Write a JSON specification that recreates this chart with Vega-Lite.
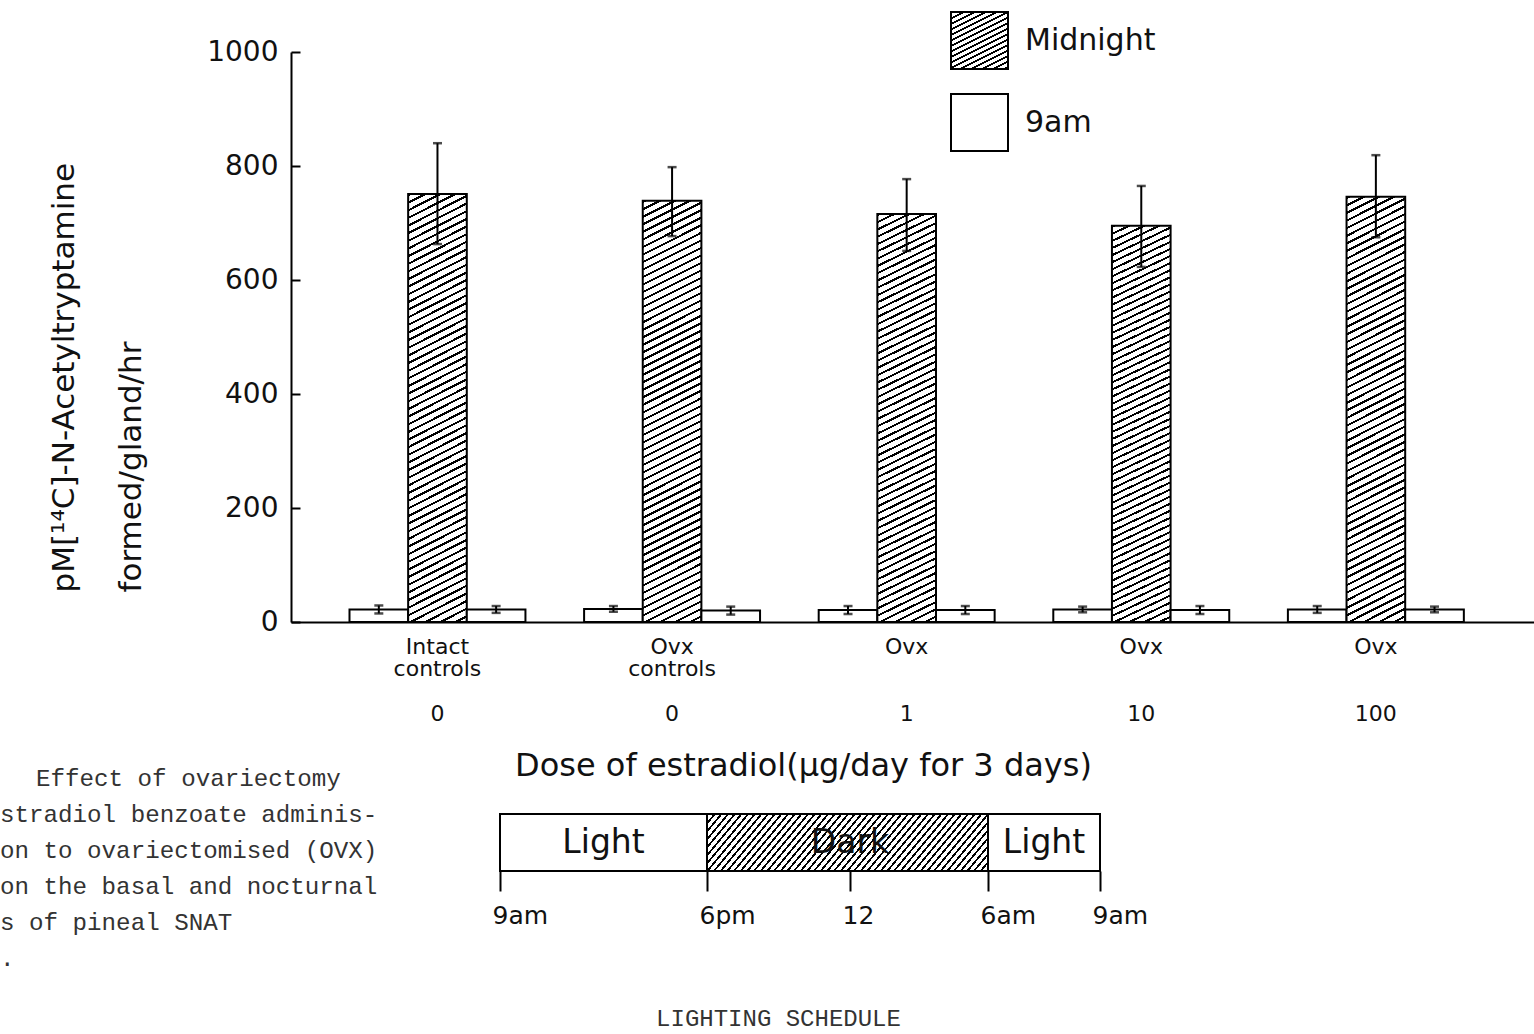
{
  "$schema": "https://vega.github.io/schema/vega-lite/v6.json",
  "background": "#ffffff",
  "padding": {"left": 0, "top": 11, "right": 0, "bottom": 6},
  "bounds": "flush",
  "spacing": 192,
  "config": {
    "view": {"stroke": null},
    "font": "DejaVu Sans",
    "axis": {"domainColor": "#000", "domainWidth": 2, "tickColor": "#000", "tickWidth": 2, "labelColor": "#111", "titleColor": "#111", "labelFont": "DejaVu Sans", "titleFont": "DejaVu Sans", "titleFontWeight": "normal", "grid": false},
    "legend": {"labelFont": "DejaVu Sans"},
    "title": {"fontWeight": "normal"}
  },
  "vconcat": [
    {
      "width": 1243,
      "height": 570,
      "data": {
        "values": [
          {"group": "Intact|controls|\u2800|0", "time": "9am_before", "series": "9am", "value": 22, "lo": 15, "hi": 29},
          {"group": "Intact|controls|\u2800|0", "time": "Midnight", "series": "Midnight", "value": 751, "lo": 663, "hi": 840},
          {"group": "Intact|controls|\u2800|0", "time": "9am_after", "series": "9am", "value": 22, "lo": 16, "hi": 28},
          {"group": "Ovx|controls|\u2800|0", "time": "9am_before", "series": "9am", "value": 23, "lo": 18, "hi": 28},
          {"group": "Ovx|controls|\u2800|0", "time": "Midnight", "series": "Midnight", "value": 739, "lo": 677, "hi": 798},
          {"group": "Ovx|controls|\u2800|0", "time": "9am_after", "series": "9am", "value": 20, "lo": 13, "hi": 27},
          {"group": "Ovx|\u2800|\u2800|1", "time": "9am_before", "series": "9am", "value": 21, "lo": 14, "hi": 28},
          {"group": "Ovx|\u2800|\u2800|1", "time": "Midnight", "series": "Midnight", "value": 716, "lo": 651, "hi": 777},
          {"group": "Ovx|\u2800|\u2800|1", "time": "9am_after", "series": "9am", "value": 21, "lo": 14, "hi": 28},
          {"group": "Ovx|\u2800|\u2800|10", "time": "9am_before", "series": "9am", "value": 22, "lo": 17, "hi": 27},
          {"group": "Ovx|\u2800|\u2800|10", "time": "Midnight", "series": "Midnight", "value": 695, "lo": 623, "hi": 765},
          {"group": "Ovx|\u2800|\u2800|10", "time": "9am_after", "series": "9am", "value": 21, "lo": 14, "hi": 28},
          {"group": "Ovx|\u2800|\u2800|100", "time": "9am_before", "series": "9am", "value": 22, "lo": 16, "hi": 28},
          {"group": "Ovx|\u2800|\u2800|100", "time": "Midnight", "series": "Midnight", "value": 746, "lo": 675, "hi": 819},
          {"group": "Ovx|\u2800|\u2800|100", "time": "9am_after", "series": "9am", "value": 22, "lo": 17, "hi": 27}
        ]
      },
      "encoding": {
        "x": {
          "field": "group", "type": "nominal", "sort": null,
          "scale": {"paddingInner": 0.25, "paddingOuter": 0.2742, "align": 0.4547},
          "axis": {
            "title": "Dose of estradiol(μg/day for 3 days)",
            "labelExpr": "split(datum.label, '|')",
            "labelAngle": 0, "labelBaseline": "top", "labelLineHeight": 22.5, "labelPadding": 14,
            "labelFontSize": 22, "labelOverlap": false, "ticks": false,
            "titleFontSize": 32, "titleX": 512, "titleY": 153, "titleAlign": "center", "titleBaseline": "alphabetic"
          }
        },
        "xOffset": {"field": "time", "type": "nominal", "sort": ["9am_before", "Midnight", "9am_after"], "scale": {"paddingInner": 0, "paddingOuter": 0}}
      },
      "layer": [
        {
          "mark": {"type": "bar", "stroke": "#000", "strokeWidth": 2},
          "encoding": {
            "y": {
              "field": "value", "type": "quantitative",
              "scale": {"domain": [0, 1000], "nice": false},
              "axis": {
                "title": ["pM[¹⁴C]-N-Acetyltryptamine", "formed/gland/hr"],
                "values": [0, 200, 400, 600, 800, 1000], "format": "d",
                "tickSize": -9, "labelPadding": 22, "labelFontSize": 28,
                "titleFontSize": 31, "titleAngle": 270, "titleAlign": "left", "titleBaseline": "alphabetic",
                "titleX": -218, "titleY": 540, "titleLineHeight": 67
              }
            },
            "fill": {
              "field": "series", "type": "nominal",
              "scale": {
                "domain": ["Midnight", "9am"],
                "range": [
                  {"expr": "{gradient: 'linear', x1: 0, y1: 0, x2: 0.7018, y2: 1.4035, stops: [{offset: 0, color: '#000'}, {offset: 0.02, color: '#000'}, {offset: 0.02, color: '#fff'}, {offset: 0.055, color: '#fff'}, {offset: 0.055, color: '#000'}, {offset: 0.075, color: '#000'}, {offset: 0.075, color: '#fff'}, {offset: 0.11, color: '#fff'}, {offset: 0.11, color: '#000'}, {offset: 0.13, color: '#000'}, {offset: 0.13, color: '#fff'}, {offset: 0.165, color: '#fff'}, {offset: 0.165, color: '#000'}, {offset: 0.185, color: '#000'}, {offset: 0.185, color: '#fff'}, {offset: 0.22, color: '#fff'}, {offset: 0.22, color: '#000'}, {offset: 0.24, color: '#000'}, {offset: 0.24, color: '#fff'}, {offset: 0.275, color: '#fff'}, {offset: 0.275, color: '#000'}, {offset: 0.295, color: '#000'}, {offset: 0.295, color: '#fff'}, {offset: 0.33, color: '#fff'}, {offset: 0.33, color: '#000'}, {offset: 0.35, color: '#000'}, {offset: 0.35, color: '#fff'}, {offset: 0.385, color: '#fff'}, {offset: 0.385, color: '#000'}, {offset: 0.405, color: '#000'}, {offset: 0.405, color: '#fff'}, {offset: 0.44, color: '#fff'}, {offset: 0.44, color: '#000'}, {offset: 0.46, color: '#000'}, {offset: 0.46, color: '#fff'}, {offset: 0.495, color: '#fff'}, {offset: 0.495, color: '#000'}, {offset: 0.515, color: '#000'}, {offset: 0.515, color: '#fff'}, {offset: 0.55, color: '#fff'}, {offset: 0.55, color: '#000'}, {offset: 0.57, color: '#000'}, {offset: 0.57, color: '#fff'}, {offset: 0.605, color: '#fff'}, {offset: 0.605, color: '#000'}, {offset: 0.625, color: '#000'}, {offset: 0.625, color: '#fff'}, {offset: 0.66, color: '#fff'}, {offset: 0.66, color: '#000'}, {offset: 0.68, color: '#000'}, {offset: 0.68, color: '#fff'}, {offset: 0.715, color: '#fff'}, {offset: 0.715, color: '#000'}, {offset: 0.735, color: '#000'}, {offset: 0.735, color: '#fff'}, {offset: 0.77, color: '#fff'}, {offset: 0.77, color: '#000'}, {offset: 0.79, color: '#000'}, {offset: 0.79, color: '#fff'}, {offset: 0.825, color: '#fff'}, {offset: 0.825, color: '#000'}, {offset: 0.845, color: '#000'}, {offset: 0.845, color: '#fff'}]}"},
                  "#ffffff"
                ]
              },
              "condition": {
                "test": "datum.series === 'Midnight'",
                "value": {"gradient": "linear", "x1": 0, "y1": 0, "x2": 0.0827, "y2": 1.1848, "stops": [
{"offset":0,"color":"#000"},{"offset":0.0045,"color":"#000"},{"offset":0.0045,"color":"#fff"},{"offset":0.015,"color":"#fff"},
{"offset":0.015,"color":"#000"},{"offset":0.0195,"color":"#000"},{"offset":0.0195,"color":"#fff"},{"offset":0.03,"color":"#fff"},
{"offset":0.03,"color":"#000"},{"offset":0.0345,"color":"#000"},{"offset":0.0345,"color":"#fff"},{"offset":0.045,"color":"#fff"},
{"offset":0.045,"color":"#000"},{"offset":0.0495,"color":"#000"},{"offset":0.0495,"color":"#fff"},{"offset":0.06,"color":"#fff"},
{"offset":0.06,"color":"#000"},{"offset":0.0645,"color":"#000"},{"offset":0.0645,"color":"#fff"},{"offset":0.075,"color":"#fff"},
{"offset":0.075,"color":"#000"},{"offset":0.0795,"color":"#000"},{"offset":0.0795,"color":"#fff"},{"offset":0.09,"color":"#fff"},
{"offset":0.09,"color":"#000"},{"offset":0.0945,"color":"#000"},{"offset":0.0945,"color":"#fff"},{"offset":0.105,"color":"#fff"},
{"offset":0.105,"color":"#000"},{"offset":0.1095,"color":"#000"},{"offset":0.1095,"color":"#fff"},{"offset":0.12,"color":"#fff"},
{"offset":0.12,"color":"#000"},{"offset":0.1245,"color":"#000"},{"offset":0.1245,"color":"#fff"},{"offset":0.135,"color":"#fff"},
{"offset":0.135,"color":"#000"},{"offset":0.1395,"color":"#000"},{"offset":0.1395,"color":"#fff"},{"offset":0.15,"color":"#fff"},
{"offset":0.15,"color":"#000"},{"offset":0.1545,"color":"#000"},{"offset":0.1545,"color":"#fff"},{"offset":0.165,"color":"#fff"},
{"offset":0.165,"color":"#000"},{"offset":0.1695,"color":"#000"},{"offset":0.1695,"color":"#fff"},{"offset":0.18,"color":"#fff"},
{"offset":0.18,"color":"#000"},{"offset":0.1845,"color":"#000"},{"offset":0.1845,"color":"#fff"},{"offset":0.195,"color":"#fff"},
{"offset":0.195,"color":"#000"},{"offset":0.1995,"color":"#000"},{"offset":0.1995,"color":"#fff"},{"offset":0.21,"color":"#fff"},
{"offset":0.21,"color":"#000"},{"offset":0.2145,"color":"#000"},{"offset":0.2145,"color":"#fff"},{"offset":0.225,"color":"#fff"},
{"offset":0.225,"color":"#000"},{"offset":0.2295,"color":"#000"},{"offset":0.2295,"color":"#fff"},{"offset":0.24,"color":"#fff"},
{"offset":0.24,"color":"#000"},{"offset":0.2445,"color":"#000"},{"offset":0.2445,"color":"#fff"},{"offset":0.255,"color":"#fff"},
{"offset":0.255,"color":"#000"},{"offset":0.2595,"color":"#000"},{"offset":0.2595,"color":"#fff"},{"offset":0.27,"color":"#fff"},
{"offset":0.27,"color":"#000"},{"offset":0.2745,"color":"#000"},{"offset":0.2745,"color":"#fff"},{"offset":0.285,"color":"#fff"},
{"offset":0.285,"color":"#000"},{"offset":0.2895,"color":"#000"},{"offset":0.2895,"color":"#fff"},{"offset":0.3,"color":"#fff"},
{"offset":0.3,"color":"#000"},{"offset":0.3045,"color":"#000"},{"offset":0.3045,"color":"#fff"},{"offset":0.315,"color":"#fff"},
{"offset":0.315,"color":"#000"},{"offset":0.3195,"color":"#000"},{"offset":0.3195,"color":"#fff"},{"offset":0.33,"color":"#fff"},
{"offset":0.33,"color":"#000"},{"offset":0.3345,"color":"#000"},{"offset":0.3345,"color":"#fff"},{"offset":0.345,"color":"#fff"},
{"offset":0.345,"color":"#000"},{"offset":0.3495,"color":"#000"},{"offset":0.3495,"color":"#fff"},{"offset":0.36,"color":"#fff"},
{"offset":0.36,"color":"#000"},{"offset":0.3645,"color":"#000"},{"offset":0.3645,"color":"#fff"},{"offset":0.375,"color":"#fff"},
{"offset":0.375,"color":"#000"},{"offset":0.3795,"color":"#000"},{"offset":0.3795,"color":"#fff"},{"offset":0.39,"color":"#fff"},
{"offset":0.39,"color":"#000"},{"offset":0.3945,"color":"#000"},{"offset":0.3945,"color":"#fff"},{"offset":0.405,"color":"#fff"},
{"offset":0.405,"color":"#000"},{"offset":0.4095,"color":"#000"},{"offset":0.4095,"color":"#fff"},{"offset":0.42,"color":"#fff"},
{"offset":0.42,"color":"#000"},{"offset":0.4245,"color":"#000"},{"offset":0.4245,"color":"#fff"},{"offset":0.435,"color":"#fff"},
{"offset":0.435,"color":"#000"},{"offset":0.4395,"color":"#000"},{"offset":0.4395,"color":"#fff"},{"offset":0.45,"color":"#fff"},
{"offset":0.45,"color":"#000"},{"offset":0.4545,"color":"#000"},{"offset":0.4545,"color":"#fff"},{"offset":0.465,"color":"#fff"},
{"offset":0.465,"color":"#000"},{"offset":0.4695,"color":"#000"},{"offset":0.4695,"color":"#fff"},{"offset":0.48,"color":"#fff"},
{"offset":0.48,"color":"#000"},{"offset":0.4845,"color":"#000"},{"offset":0.4845,"color":"#fff"},{"offset":0.495,"color":"#fff"},
{"offset":0.495,"color":"#000"},{"offset":0.4995,"color":"#000"},{"offset":0.4995,"color":"#fff"},{"offset":0.51,"color":"#fff"},
{"offset":0.51,"color":"#000"},{"offset":0.5145,"color":"#000"},{"offset":0.5145,"color":"#fff"},{"offset":0.525,"color":"#fff"},
{"offset":0.525,"color":"#000"},{"offset":0.5295,"color":"#000"},{"offset":0.5295,"color":"#fff"},{"offset":0.54,"color":"#fff"},
{"offset":0.54,"color":"#000"},{"offset":0.5445,"color":"#000"},{"offset":0.5445,"color":"#fff"},{"offset":0.555,"color":"#fff"},
{"offset":0.555,"color":"#000"},{"offset":0.5595,"color":"#000"},{"offset":0.5595,"color":"#fff"},{"offset":0.57,"color":"#fff"},
{"offset":0.57,"color":"#000"},{"offset":0.5745,"color":"#000"},{"offset":0.5745,"color":"#fff"},{"offset":0.585,"color":"#fff"},
{"offset":0.585,"color":"#000"},{"offset":0.5895,"color":"#000"},{"offset":0.5895,"color":"#fff"},{"offset":0.6,"color":"#fff"},
{"offset":0.6,"color":"#000"},{"offset":0.6045,"color":"#000"},{"offset":0.6045,"color":"#fff"},{"offset":0.615,"color":"#fff"},
{"offset":0.615,"color":"#000"},{"offset":0.6195,"color":"#000"},{"offset":0.6195,"color":"#fff"},{"offset":0.63,"color":"#fff"},
{"offset":0.63,"color":"#000"},{"offset":0.6345,"color":"#000"},{"offset":0.6345,"color":"#fff"},{"offset":0.645,"color":"#fff"},
{"offset":0.645,"color":"#000"},{"offset":0.6495,"color":"#000"},{"offset":0.6495,"color":"#fff"},{"offset":0.66,"color":"#fff"},
{"offset":0.66,"color":"#000"},{"offset":0.6645,"color":"#000"},{"offset":0.6645,"color":"#fff"},{"offset":0.675,"color":"#fff"},
{"offset":0.675,"color":"#000"},{"offset":0.6795,"color":"#000"},{"offset":0.6795,"color":"#fff"},{"offset":0.69,"color":"#fff"},
{"offset":0.69,"color":"#000"},{"offset":0.6945,"color":"#000"},{"offset":0.6945,"color":"#fff"},{"offset":0.705,"color":"#fff"},
{"offset":0.705,"color":"#000"},{"offset":0.7095,"color":"#000"},{"offset":0.7095,"color":"#fff"},{"offset":0.72,"color":"#fff"},
{"offset":0.72,"color":"#000"},{"offset":0.7245,"color":"#000"},{"offset":0.7245,"color":"#fff"},{"offset":0.735,"color":"#fff"},
{"offset":0.735,"color":"#000"},{"offset":0.7395,"color":"#000"},{"offset":0.7395,"color":"#fff"},{"offset":0.75,"color":"#fff"},
{"offset":0.75,"color":"#000"},{"offset":0.7545,"color":"#000"},{"offset":0.7545,"color":"#fff"},{"offset":0.765,"color":"#fff"},
{"offset":0.765,"color":"#000"},{"offset":0.7695,"color":"#000"},{"offset":0.7695,"color":"#fff"},{"offset":0.78,"color":"#fff"},
{"offset":0.78,"color":"#000"},{"offset":0.7845,"color":"#000"},{"offset":0.7845,"color":"#fff"},{"offset":0.795,"color":"#fff"},
{"offset":0.795,"color":"#000"},{"offset":0.7995,"color":"#000"},{"offset":0.7995,"color":"#fff"},{"offset":0.81,"color":"#fff"},
{"offset":0.81,"color":"#000"},{"offset":0.8145,"color":"#000"},{"offset":0.8145,"color":"#fff"},{"offset":0.825,"color":"#fff"},
{"offset":0.825,"color":"#000"},{"offset":0.8295,"color":"#000"},{"offset":0.8295,"color":"#fff"},{"offset":0.84,"color":"#fff"},
{"offset":0.84,"color":"#000"},{"offset":0.8445,"color":"#000"},{"offset":0.8445,"color":"#fff"},{"offset":0.855,"color":"#fff"},
{"offset":0.855,"color":"#000"},{"offset":0.8595,"color":"#000"},{"offset":0.8595,"color":"#fff"},{"offset":0.87,"color":"#fff"},
{"offset":0.87,"color":"#000"},{"offset":0.8745,"color":"#000"},{"offset":0.8745,"color":"#fff"},{"offset":0.885,"color":"#fff"},
{"offset":0.885,"color":"#000"},{"offset":0.8895,"color":"#000"},{"offset":0.8895,"color":"#fff"}
                ]}
              },
              "legend": {
                "title": null, "orient": "none", "legendX": 659, "legendY": -41,
                "symbolType": "square", "symbolSize": 3249, "symbolStrokeWidth": 2, "symbolStrokeColor": "#000",
                "labelFontSize": 30, "labelColor": "#111", "labelOffset": 16, "rowPadding": 17, "padding": 0
              }
            }
          }
        },
        {
          "mark": {"type": "rule", "color": "#000", "strokeWidth": 2},
          "encoding": {
            "y": {"field": "lo", "type": "quantitative"},
            "y2": {"field": "hi"}
          }
        },
        {
          "mark": {"type": "tick", "color": "#000", "size": 9, "thickness": 2.5},
          "encoding": {"y": {"field": "lo", "type": "quantitative"}}
        },
        {
          "mark": {"type": "tick", "color": "#000", "size": 9, "thickness": 2.5},
          "encoding": {"y": {"field": "hi", "type": "quantitative"}}
        }
      ]
    },
    {
      "width": 809,
      "height": 57,
      "title": {
        "text": ["\u2800\u2800Effect of ovariectomy", "stradiol benzoate adminis-", "on to ovariectomised (OVX)", "on the basal and nocturnal", "s of pineal SNAT", "."],
        "orient": "top", "anchor": "start", "frame": "group", "align": "left", "baseline": "top",
        "offset": -158, "dx": -291, "font": "Liberation Mono", "fontSize": 24.2, "fontWeight": "normal",
        "lineHeight": 36, "color": "#333333"
      },
      "data": {
        "values": [
          {"phase": "Light", "start": 0, "end": 9},
          {"phase": "Dark", "start": 9, "end": 21},
          {"phase": "Light", "start": 21, "end": 24}
        ]
      },
      "transform": [{"calculate": "(datum.start + datum.end) / 2", "as": "mid"}],
      "layer": [
        {
          "mark": {"type": "rect", "stroke": "#000", "strokeWidth": 2},
          "encoding": {
            "x": {
              "field": "start", "type": "quantitative",
              "scale": {"domain": [0, 9, 15, 21, 24], "range": [209, 416, 559, 697, 809], "nice": false, "zero": false},
              "axis": {
                "title": "LIGHTING SCHEDULE",
                "values": [0, 9, 15, 21, 24],
                "labelExpr": "datum.value == 0 ? '9am' : datum.value == 9 ? '6pm' : datum.value == 15 ? '12' : datum.value == 21 ? '6am' : '9am'",
                "domain": false, "ticks": true, "tickSize": 20, "tickWidth": 2,
                "labelAlign": "left", "labelOffset": -8, "labelPadding": 12, "labelFontSize": 25,
                "labelFlush": false, "labelOverlap": false,
                "titleFont": "Liberation Mono", "titleFontSize": 24, "titleColor": "#333333",
                "titleX": 487, "titleY": 154, "titleAlign": "center", "titleBaseline": "alphabetic"
              }
            },
            "x2": {"field": "end"},
            "fill": {
              "condition": {
                "test": "datum.phase === 'Dark'",
                "value": {"gradient": "linear", "x1": 0, "y1": 0, "x2": 1.1532, "y2": 0.1949, "stops": [
{"offset":0,"color":"#000"},{"offset":0.007,"color":"#000"},{"offset":0.007,"color":"#fff"},{"offset":0.02,"color":"#fff"},
{"offset":0.02,"color":"#000"},{"offset":0.027,"color":"#000"},{"offset":0.027,"color":"#fff"},{"offset":0.04,"color":"#fff"},
{"offset":0.04,"color":"#000"},{"offset":0.047,"color":"#000"},{"offset":0.047,"color":"#fff"},{"offset":0.06,"color":"#fff"},
{"offset":0.06,"color":"#000"},{"offset":0.067,"color":"#000"},{"offset":0.067,"color":"#fff"},{"offset":0.08,"color":"#fff"},
{"offset":0.08,"color":"#000"},{"offset":0.087,"color":"#000"},{"offset":0.087,"color":"#fff"},{"offset":0.1,"color":"#fff"},
{"offset":0.1,"color":"#000"},{"offset":0.107,"color":"#000"},{"offset":0.107,"color":"#fff"},{"offset":0.12,"color":"#fff"},
{"offset":0.12,"color":"#000"},{"offset":0.127,"color":"#000"},{"offset":0.127,"color":"#fff"},{"offset":0.14,"color":"#fff"},
{"offset":0.14,"color":"#000"},{"offset":0.147,"color":"#000"},{"offset":0.147,"color":"#fff"},{"offset":0.16,"color":"#fff"},
{"offset":0.16,"color":"#000"},{"offset":0.167,"color":"#000"},{"offset":0.167,"color":"#fff"},{"offset":0.18,"color":"#fff"},
{"offset":0.18,"color":"#000"},{"offset":0.187,"color":"#000"},{"offset":0.187,"color":"#fff"},{"offset":0.2,"color":"#fff"},
{"offset":0.2,"color":"#000"},{"offset":0.207,"color":"#000"},{"offset":0.207,"color":"#fff"},{"offset":0.22,"color":"#fff"},
{"offset":0.22,"color":"#000"},{"offset":0.227,"color":"#000"},{"offset":0.227,"color":"#fff"},{"offset":0.24,"color":"#fff"},
{"offset":0.24,"color":"#000"},{"offset":0.247,"color":"#000"},{"offset":0.247,"color":"#fff"},{"offset":0.26,"color":"#fff"},
{"offset":0.26,"color":"#000"},{"offset":0.267,"color":"#000"},{"offset":0.267,"color":"#fff"},{"offset":0.28,"color":"#fff"},
{"offset":0.28,"color":"#000"},{"offset":0.287,"color":"#000"},{"offset":0.287,"color":"#fff"},{"offset":0.3,"color":"#fff"},
{"offset":0.3,"color":"#000"},{"offset":0.307,"color":"#000"},{"offset":0.307,"color":"#fff"},{"offset":0.32,"color":"#fff"},
{"offset":0.32,"color":"#000"},{"offset":0.327,"color":"#000"},{"offset":0.327,"color":"#fff"},{"offset":0.34,"color":"#fff"},
{"offset":0.34,"color":"#000"},{"offset":0.347,"color":"#000"},{"offset":0.347,"color":"#fff"},{"offset":0.36,"color":"#fff"},
{"offset":0.36,"color":"#000"},{"offset":0.367,"color":"#000"},{"offset":0.367,"color":"#fff"},{"offset":0.38,"color":"#fff"},
{"offset":0.38,"color":"#000"},{"offset":0.387,"color":"#000"},{"offset":0.387,"color":"#fff"},{"offset":0.4,"color":"#fff"},
{"offset":0.4,"color":"#000"},{"offset":0.407,"color":"#000"},{"offset":0.407,"color":"#fff"},{"offset":0.42,"color":"#fff"},
{"offset":0.42,"color":"#000"},{"offset":0.427,"color":"#000"},{"offset":0.427,"color":"#fff"},{"offset":0.44,"color":"#fff"},
{"offset":0.44,"color":"#000"},{"offset":0.447,"color":"#000"},{"offset":0.447,"color":"#fff"},{"offset":0.46,"color":"#fff"},
{"offset":0.46,"color":"#000"},{"offset":0.467,"color":"#000"},{"offset":0.467,"color":"#fff"},{"offset":0.48,"color":"#fff"},
{"offset":0.48,"color":"#000"},{"offset":0.487,"color":"#000"},{"offset":0.487,"color":"#fff"},{"offset":0.5,"color":"#fff"},
{"offset":0.5,"color":"#000"},{"offset":0.507,"color":"#000"},{"offset":0.507,"color":"#fff"},{"offset":0.52,"color":"#fff"},
{"offset":0.52,"color":"#000"},{"offset":0.527,"color":"#000"},{"offset":0.527,"color":"#fff"},{"offset":0.54,"color":"#fff"},
{"offset":0.54,"color":"#000"},{"offset":0.547,"color":"#000"},{"offset":0.547,"color":"#fff"},{"offset":0.56,"color":"#fff"},
{"offset":0.56,"color":"#000"},{"offset":0.567,"color":"#000"},{"offset":0.567,"color":"#fff"},{"offset":0.58,"color":"#fff"},
{"offset":0.58,"color":"#000"},{"offset":0.587,"color":"#000"},{"offset":0.587,"color":"#fff"},{"offset":0.6,"color":"#fff"},
{"offset":0.6,"color":"#000"},{"offset":0.607,"color":"#000"},{"offset":0.607,"color":"#fff"},{"offset":0.62,"color":"#fff"},
{"offset":0.62,"color":"#000"},{"offset":0.627,"color":"#000"},{"offset":0.627,"color":"#fff"},{"offset":0.64,"color":"#fff"},
{"offset":0.64,"color":"#000"},{"offset":0.647,"color":"#000"},{"offset":0.647,"color":"#fff"},{"offset":0.66,"color":"#fff"},
{"offset":0.66,"color":"#000"},{"offset":0.667,"color":"#000"},{"offset":0.667,"color":"#fff"},{"offset":0.68,"color":"#fff"},
{"offset":0.68,"color":"#000"},{"offset":0.687,"color":"#000"},{"offset":0.687,"color":"#fff"},{"offset":0.7,"color":"#fff"},
{"offset":0.7,"color":"#000"},{"offset":0.707,"color":"#000"},{"offset":0.707,"color":"#fff"},{"offset":0.72,"color":"#fff"},
{"offset":0.72,"color":"#000"},{"offset":0.727,"color":"#000"},{"offset":0.727,"color":"#fff"},{"offset":0.74,"color":"#fff"},
{"offset":0.74,"color":"#000"},{"offset":0.747,"color":"#000"},{"offset":0.747,"color":"#fff"},{"offset":0.76,"color":"#fff"},
{"offset":0.76,"color":"#000"},{"offset":0.767,"color":"#000"},{"offset":0.767,"color":"#fff"},{"offset":0.78,"color":"#fff"},
{"offset":0.78,"color":"#000"},{"offset":0.787,"color":"#000"},{"offset":0.787,"color":"#fff"},{"offset":0.8,"color":"#fff"},
{"offset":0.8,"color":"#000"},{"offset":0.807,"color":"#000"},{"offset":0.807,"color":"#fff"},{"offset":0.82,"color":"#fff"},
{"offset":0.82,"color":"#000"},{"offset":0.827,"color":"#000"},{"offset":0.827,"color":"#fff"},{"offset":0.84,"color":"#fff"},
{"offset":0.84,"color":"#000"},{"offset":0.847,"color":"#000"},{"offset":0.847,"color":"#fff"},{"offset":0.86,"color":"#fff"},
{"offset":0.86,"color":"#000"},{"offset":0.867,"color":"#000"},{"offset":0.867,"color":"#fff"},{"offset":0.88,"color":"#fff"},
{"offset":0.88,"color":"#000"},{"offset":0.887,"color":"#000"},{"offset":0.887,"color":"#fff"},{"offset":0.9,"color":"#fff"},
{"offset":0.9,"color":"#000"},{"offset":0.907,"color":"#000"},{"offset":0.907,"color":"#fff"},{"offset":0.92,"color":"#fff"},
{"offset":0.92,"color":"#000"},{"offset":0.927,"color":"#000"},{"offset":0.927,"color":"#fff"},{"offset":0.94,"color":"#fff"},
{"offset":0.94,"color":"#000"},{"offset":0.947,"color":"#000"},{"offset":0.947,"color":"#fff"},{"offset":0.96,"color":"#fff"},
{"offset":0.96,"color":"#000"},{"offset":0.967,"color":"#000"},{"offset":0.967,"color":"#fff"},{"offset":0.98,"color":"#fff"},
{"offset":0.98,"color":"#000"},{"offset":0.987,"color":"#000"},{"offset":0.987,"color":"#fff"}
                ]}
              },
              "value": "#ffffff"
            }
          }
        },
        {
          "mark": {"type": "text", "font": "DejaVu Sans", "fontSize": 33, "color": "#111", "baseline": "middle", "align": "center"},
          "encoding": {
            "x": {"field": "mid", "type": "quantitative"},
            "text": {"field": "phase"}
          }
        }
      ]
    }
  ]
}
